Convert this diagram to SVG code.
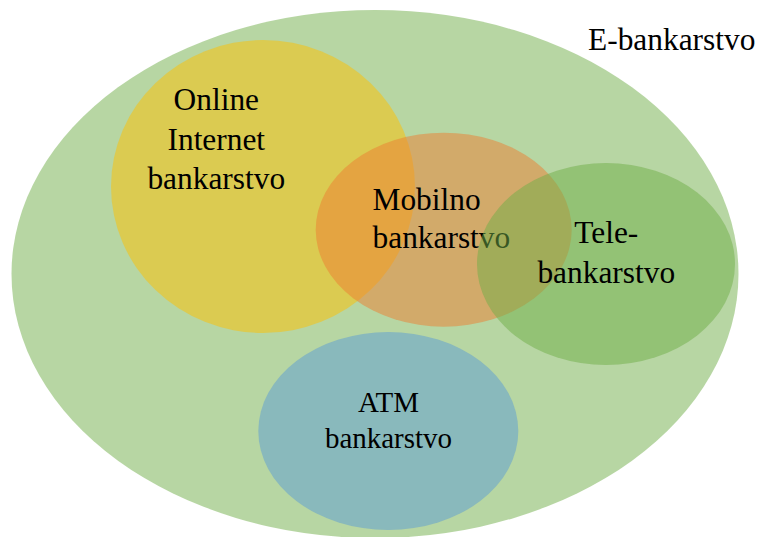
<svg xmlns="http://www.w3.org/2000/svg" width="760" height="537" viewBox="0 0 760 537">
<style>
text{font-family:'Liberation Serif','DejaVu Serif',serif;font-size:31.4px;fill:#000}
.c{text-anchor:middle}
.small{font-size:29px}
</style>
<rect width="760" height="537" fill="#fff"/>
<g id="e-bankarstvo">
<ellipse cx="375" cy="274" rx="363.5" ry="264" fill="#70AD47" fill-opacity="0.5"/>
<text x="588" y="50">E-bankarstvo</text>
</g>
<g id="online">
<ellipse cx="263" cy="186.5" rx="152" ry="146.5" fill="#FFC000" fill-opacity="0.5"/>
<text class="c" x="216.3" y="109.5">Online</text>
<text class="c" x="216.3" y="149.5">Internet</text>
<text class="c" x="216.3" y="189.3">bankarstvo</text>
</g>
<g id="atm">
<ellipse cx="388.3" cy="431" rx="130" ry="99" fill="#5B9BD5" fill-opacity="0.5"/>
<text class="c small" x="388.5" y="411.7">ATM</text>
<text class="c small" x="388.5" y="448">bankarstvo</text>
</g>
<g id="mobilno">
<ellipse cx="443.7" cy="229.7" rx="128" ry="97" fill="#ED7D31" fill-opacity="0.5"/>
<text x="372.5" y="210">Mobilno</text>
<text x="372.5" y="248.3">bankarstvo</text>
</g>
<g id="tele">
<ellipse cx="606" cy="264" rx="129" ry="101" fill="#70AD47" fill-opacity="0.5"/>
<text class="c" x="606.3" y="243.3">Tele-</text>
<text class="c" x="606.3" y="282.7">bankarstvo</text>
</g>
<g id="connectors"/>
</svg>
